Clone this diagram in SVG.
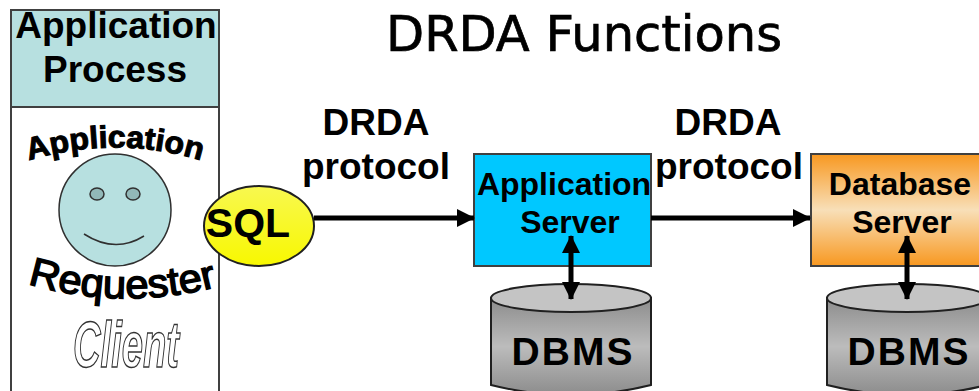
<svg xmlns="http://www.w3.org/2000/svg" width="979" height="391" viewBox="0 0 979 391">
<style>
text{font-family:"Liberation Sans",Arial,sans-serif;font-weight:bold;fill:#000;text-anchor:middle}
.box{stroke:#404040;stroke-width:2}
.lbl{font-size:37px}
.srv{font-size:32px}
.db{font-size:39px}
.cyl{stroke:#202020;stroke-width:2}
.conn{stroke:#000;stroke-width:5;fill:none}
</style>
<defs>
<linearGradient id="orange" x1="0" y1="0" x2="0" y2="1"><stop offset="0" stop-color="#f89820"/><stop offset=".5" stop-color="#f8dfb8"/><stop offset="1" stop-color="#f89820"/></linearGradient>
<linearGradient id="yellow" x1="0" y1="0" x2="0" y2="1"><stop offset="0" stop-color="#f8f850"/><stop offset="1" stop-color="#f8f800"/></linearGradient>
<linearGradient id="grey" x1="0" y1="0" x2="0" y2="1"><stop offset="0" stop-color="#8c8c8c"/><stop offset=".5" stop-color="#bcbcbc"/><stop offset="1" stop-color="#8c8c8c"/></linearGradient>
<marker id="ah" markerUnits="userSpaceOnUse" markerWidth="18" markerHeight="20" refX="17" refY="10" orient="auto-start-reverse"><path d="M0 1L18 10L0 19Z" fill="#000"/></marker>
<path id="arcA" d="M27 161Q115 134 203 161"/>
<path id="arcR" d="M25 283Q120 312 220 286"/>
</defs>
<text x="584" y="51" style="font-family:'DejaVu Sans',sans-serif;font-weight:normal;font-size:50px" stroke="#000" stroke-width=".7" textLength="396" lengthAdjust="spacingAndGlyphs">DRDA Functions</text>
<g id="app-process">
<rect x="11" y="10" width="208" height="97" fill="#b7e0e0" class="box"/>
<rect x="11" y="107" width="208" height="290" fill="#fff" class="box"/>
<text x="116" y="38" class="lbl">Application</text>
<text x="115" y="82" class="lbl">Process</text>
<text style="font-size:31px" stroke="#000" stroke-width="1" textLength="175" lengthAdjust="spacingAndGlyphs"><textPath href="#arcA" startOffset="50%">Application</textPath></text>
<g id="face">
<circle cx="115" cy="210" r="56" fill="#b7e0e0" stroke="#303030" stroke-width="1.5"/>
<ellipse cx="97" cy="194" rx="7" ry="6" fill="#92b8b8" stroke="#303030" stroke-width="1.5"/>
<ellipse cx="133" cy="194" rx="7" ry="6" fill="#92b8b8" stroke="#303030" stroke-width="1.5"/>
<path d="M84 234Q115 254 144 236" fill="none" stroke="#303030" stroke-width="1.5"/>
</g>
<text style="font-size:40px;font-weight:normal" stroke="#000" stroke-width="1.5" textLength="192" lengthAdjust="spacingAndGlyphs"><textPath href="#arcR" startOffset="50%">Requester</textPath></text>
<text x="126" y="367" style="font-size:64px;font-weight:bold;font-style:italic;fill:#fff;stroke:#333;stroke-width:1.5" textLength="106" lengthAdjust="spacingAndGlyphs">Client</text>
</g>
<g id="sql">
<ellipse cx="259" cy="226" rx="55" ry="40" fill="url(#yellow)" stroke="#202020" stroke-width="2"/>
<text x="248" y="237" style="font-size:41px">SQL</text>
</g>
<g id="label-1"><text x="376" y="135" class="lbl">DRDA</text><text x="376" y="179" class="lbl">protocol</text></g>
<g id="label-2"><text x="728" y="135" class="lbl">DRDA</text><text x="729" y="179" class="lbl">protocol</text></g>
<g id="app-server">
<rect x="474" y="154" width="177" height="112" fill="#00c8ff" class="box"/>
<text x="564" y="195" class="srv">Application</text>
<text x="570" y="233" class="srv">Server</text>
</g>
<g id="db-server">
<rect x="811" y="154" width="180" height="112" fill="url(#orange)" class="box"/>
<text x="900" y="195" class="srv">Database</text>
<text x="902" y="233" class="srv">Server</text>
</g>
<g id="dbms-1">
<path d="M491 298V385Q571 405 651 385V298Z" fill="url(#grey)" class="cyl"/>
<ellipse cx="571" cy="298" rx="80" ry="14" fill="#c4c4c4" class="cyl"/>
<text x="572" y="365" class="db" textLength="121">DBMS</text>
</g>
<g id="dbms-2">
<path d="M827 298V385Q907 405 987 385V298Z" fill="url(#grey)" class="cyl"/>
<ellipse cx="907" cy="298" rx="80" ry="14" fill="#c4c4c4" class="cyl"/>
<text x="908" y="365" class="db" textLength="121">DBMS</text>
</g>
<g id="connectors">
<line x1="314" y1="218" x2="474" y2="218" class="conn" marker-end="url(#ah)"/>
<line x1="651" y1="218" x2="810" y2="218" class="conn" marker-end="url(#ah)"/>
<line x1="571" y1="236" x2="571" y2="299" class="conn" marker-start="url(#ah)" marker-end="url(#ah)"/>
<line x1="907" y1="236" x2="907" y2="299" class="conn" marker-start="url(#ah)" marker-end="url(#ah)"/>
</g>
</svg>
